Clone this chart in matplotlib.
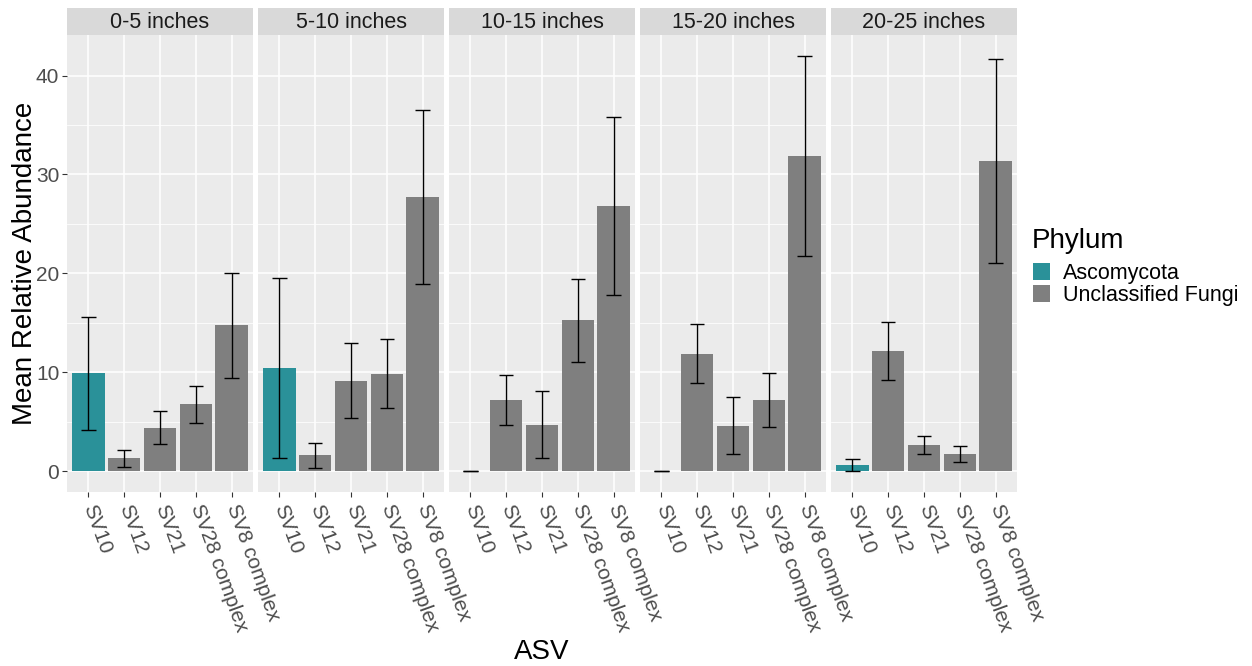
import numpy as np
import matplotlib
matplotlib.use("Agg")
import matplotlib.pyplot as plt
from matplotlib.patches import Patch

plt.rcParams['font.family'] = ['Liberation Sans', 'DejaVu Sans']

depths = ["0-5 inches", "5-10 inches", "10-15 inches", "15-20 inches", "20-25 inches"]
asvs = ["SV10", "SV12", "SV21", "SV28 complex", "SV8 complex"]
phylum = ["Ascomycota", "Unclassified Fungi", "Unclassified Fungi", "Unclassified Fungi", "Unclassified Fungi"]

# mean relative abundance, one row per depth
means = [
    [9.9, 1.3, 4.4, 6.75, 14.75],
    [10.4, 1.6, 9.15, 9.85, 27.7],
    [0.0, 7.2, 4.7, 15.25, 26.85],
    [0.0, 11.9, 4.6, 7.2, 31.9],
    [0.65, 12.15, 2.65, 1.75, 31.35],
]
# error bar half widths
errs = [
    [5.7, 0.85, 1.65, 1.9, 5.3],
    [9.1, 1.3, 3.8, 3.5, 8.8],
    [0.0, 2.5, 3.4, 4.2, 9.0],
    [0.0, 3.0, 2.9, 2.7, 10.1],
    [0.6, 2.9, 0.9, 0.8, 10.3],
]

colors = {"Ascomycota": "#2A9199", "Unclassified Fungi": "#7F7F7F"}

W, H = 1252, 666
fig = plt.figure(figsize=(W / 100, H / 100), dpi=100)

panel_x = [67, 258, 449, 640, 831]
panel_w = 186
top_px, bot_px, strip_top = 35, 492, 8

x = np.arange(len(asvs))
for i, d in enumerate(depths):
    ax = fig.add_axes([panel_x[i] / W, 1 - bot_px / H, panel_w / W, (bot_px - top_px) / H])
    ax.set_facecolor("#EBEBEB")
    ax.set_axisbelow(True)
    m = np.array(means[i])
    e = np.array(errs[i])
    ax.bar(x, m, width=0.9, color=[colors[p] for p in phylum], zorder=2)
    ax.vlines(x, m - e, m + e, color="black", lw=1.0, zorder=3)
    ax.hlines(m - e, x - 0.2, x + 0.2, color="black", lw=1.0, zorder=3)
    ax.hlines(m + e, x - 0.2, x + 0.2, color="black", lw=1.0, zorder=3)
    ax.set_xlim(-0.6, 4.6)
    ax.set_ylim(-2.1, 44.1)
    ax.set_yticks([0, 10, 20, 30, 40])
    ax.set_yticks([5, 15, 25, 35], minor=True)
    ax.grid(which="major", color="white", lw=1.1)
    ax.grid(which="minor", axis="y", color="white", lw=0.55)
    ax.set_xticks(x)
    ax.set_xticklabels(asvs, rotation=-70, ha="left", va="center", rotation_mode="anchor",
                       fontsize=15, color="#4D4D4D")
    ax.tick_params(axis="x", length=3.5, width=0.8, color="#333333", pad=6)
    ax.tick_params(axis="y", which="major", length=3.5, width=0.8, color="#333333",
                   labelsize=15, labelcolor="#4D4D4D", pad=2)
    ax.tick_params(which="minor", length=0)
    if i > 0:
        ax.tick_params(axis="y", which="major", length=0, labelleft=False)
    for s in ax.spines.values():
        s.set_visible(False)

    sax = fig.add_axes([panel_x[i] / W, 1 - top_px / H, panel_w / W, (top_px - strip_top) / H])
    sax.set_facecolor("#D9D9D9")
    sax.set_xticks([])
    sax.set_yticks([])
    for s in sax.spines.values():
        s.set_visible(False)
    sax.text(0.5, 0.45, d, ha="center", va="center", fontsize=15.5, color="#1A1A1A",
             transform=sax.transAxes)

fig.text(25 / W, 1 - 263 / H, "Mean Relative Abundance", rotation=90, ha="center", va="center",
         fontsize=20)
fig.text(542 / W, 1 - 652 / H, "ASV", ha="center", va="center", fontsize=20)

# legend
fig.text(1032 / W, 1 - 248 / H, "Phylum", ha="left", va="baseline", fontsize=20)
handles = [Patch(facecolor=colors[p]) for p in ["Ascomycota", "Unclassified Fungi"]]
leg = fig.legend(handles, ["Ascomycota", "Unclassified Fungi"],
                 loc="upper left", bbox_to_anchor=(1033 / W, 1 - 263 / H), frameon=False,
                 fontsize=15.5, handlelength=0.8, handleheight=0.78,
                 handletextpad=0.6, labelspacing=0.05, borderpad=0, borderaxespad=0)

fig.savefig("out.png", dpi=100)
